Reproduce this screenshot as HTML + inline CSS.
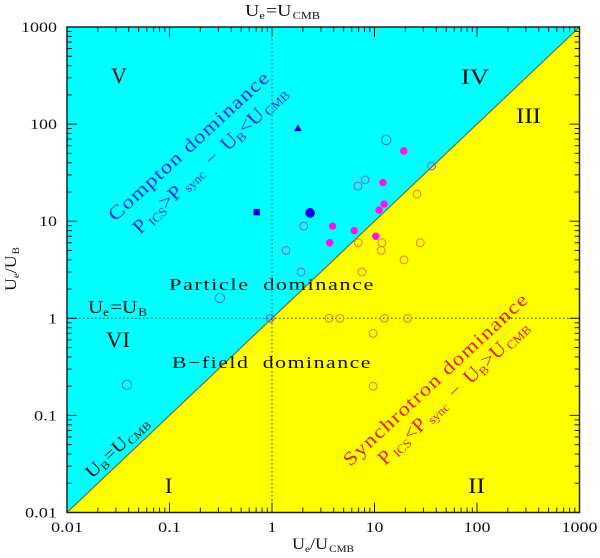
<!DOCTYPE html>
<html lang="en">
<head>
<meta charset="utf-8">
<title>Energy density dominance diagram</title>
<style>
html,body{margin:0;padding:0;background:#fff;width:600px;height:558px;overflow:hidden}
svg{display:block}
text{font-family:"Liberation Serif",serif;fill:#111}
.sub{font-size:62%}
</style>
</head>
<body>
<svg id="chart" xmlns="http://www.w3.org/2000/svg" width="600" height="558" viewBox="0 0 600 558">
<g id="regions"></g>
<g id="guides"></g>
<g id="marks"></g>
<g id="axes"></g>

<text x="111" y="83" font-size="22">V</text>
<text x="461" y="84" font-size="22" textLength="28" lengthAdjust="spacingAndGlyphs">IV</text>
<text x="516" y="123" font-size="22" textLength="25" lengthAdjust="spacingAndGlyphs">III</text>
<text x="106" y="347" font-size="22" textLength="24" lengthAdjust="spacingAndGlyphs">VI</text>
<text x="165" y="493" font-size="22">I</text>
<text x="468" y="493" font-size="22" textLength="17" lengthAdjust="spacingAndGlyphs">II</text>

<text x="169" y="290" font-size="17" letter-spacing="1.2" word-spacing="5" textLength="206" lengthAdjust="spacingAndGlyphs">Particle dominance</text>
<text x="172" y="368" font-size="17" letter-spacing="1.2" word-spacing="5" textLength="200" lengthAdjust="spacingAndGlyphs">B−field dominance</text>

<text x="245" y="16" font-size="17" textLength="75" lengthAdjust="spacingAndGlyphs">U<tspan class="sub" dy="3">e</tspan><tspan dy="-3" dx="1">=U</tspan><tspan class="sub" dy="3" dx="1">CMB</tspan></text>
<text x="88" y="313" font-size="18" textLength="59" lengthAdjust="spacingAndGlyphs">U<tspan class="sub" dy="3">e</tspan><tspan dy="-3" dx="1">=U</tspan><tspan class="sub" dy="3" dx="1">B</tspan></text>
<text transform="translate(92,479) rotate(-43.5)" font-size="18" textLength="80" lengthAdjust="spacingAndGlyphs">U<tspan class="sub" dy="3">B</tspan><tspan dy="-3" dx="1">=U</tspan><tspan class="sub" dy="3" dx="1">CMB</tspan></text>

<text transform="translate(115,222) rotate(-42.5)" font-size="19" letter-spacing="1" textLength="212" lengthAdjust="spacingAndGlyphs" style="fill:#1a30e8">Compton dominance</text>
<text transform="translate(140,235) rotate(-43.5)" font-size="20" textLength="205" lengthAdjust="spacingAndGlyphs" style="fill:#1a30e8">P<tspan class="sub" dy="3" dx="3">ICS</tspan><tspan dy="-3">&gt;P</tspan><tspan class="sub" dy="3" dx="4">sync</tspan><tspan dy="-3" dx="9">−</tspan><tspan dx="9">U</tspan><tspan class="sub" dy="3">B</tspan><tspan dy="-3">&lt;U</tspan><tspan class="sub" dy="3" dx="2">CMB</tspan></text>

<text transform="translate(350,467) rotate(-42.8)" font-size="19" letter-spacing="1" textLength="245" lengthAdjust="spacingAndGlyphs" style="fill:#e8201c">Synchrotron dominance</text>
<text transform="translate(385,466) rotate(-43.5)" font-size="20" textLength="200" lengthAdjust="spacingAndGlyphs" style="fill:#e8201c">P<tspan class="sub" dy="3" dx="3">ICS</tspan><tspan dy="-3">&lt;P</tspan><tspan class="sub" dy="3" dx="4">sync</tspan><tspan dy="-3" dx="9">−</tspan><tspan dx="9">U</tspan><tspan class="sub" dy="3">B</tspan><tspan dy="-3">&gt;U</tspan><tspan class="sub" dy="3" dx="2">CMB</tspan></text>

<text x="292" y="549" font-size="16" textLength="62" lengthAdjust="spacingAndGlyphs">U<tspan class="sub" dy="3">e</tspan><tspan dy="-3">/U</tspan><tspan class="sub" dy="3" dx="1">CMB</tspan></text>
<text transform="translate(16,291) rotate(-90)" font-size="16" textLength="44" lengthAdjust="spacingAndGlyphs">U<tspan class="sub" dy="3">e</tspan><tspan dy="-3">/U</tspan><tspan class="sub" dy="3" dx="1">B</tspan></text>
</svg>
<script>
// Axis tick values and labels
const xTicks = [0.01, 0.1, 1, 10, 100, 1000];
const yTicks = [0.01, 0.1, 1, 10, 100, 1000];
const xTickLabels = ['0.01', '0.1', '1', '10', '100', '1000'];
const yTickLabels = ['0.01', '0.1', '1', '10', '100', '1000'];
const minorMultipliers = [2, 3, 4, 5, 6, 7, 8, 9];

// Guide line positions (data units)
const guideX = [1];
const guideY = [1];

// Open small circles (sources)
const openX = [36, 8.1, 6.9, 26, 2.04, 1.37, 6.95, 11.8, 11.6, 28, 19.4, 7.55, 1.92, 0.96, 3.6, 4.6, 12.5, 21, 9.7, 9.7];
const openY = [37, 26.7, 23, 19, 8.9, 5, 6, 6, 5, 6, 4, 3, 3, 1, 1, 1, 1, 1, 0.7, 0.2];

// Open large circles
const largeX = [13, 0.31, 0.0385];
const largeY = [68.6, 1.62, 0.207];

// Filled magenta circles
const filledX = [19.3, 12.1, 12.4, 11.1, 3.9, 6.35, 10.3, 3.65];
const filledY = [53, 25, 15, 13, 8.9, 8, 7, 6];

// Single blue markers
const blueCircleX = [2.35];
const blueCircleY = [12.2];
const blueSquareX = [0.71];
const blueSquareY = [12.4];
const blueTriangleX = [1.79];
const blueTriangleY = [91];

const NS = 'http://www.w3.org/2000/svg';
const LEFT = 67, RIGHT = 579.5, TOP = 27, BOTTOM = 512.5;
const xMin = xTicks[0], xMax = xTicks[xTicks.length - 1];
const yMin = yTicks[0], yMax = yTicks[yTicks.length - 1];
function sx(v) { return LEFT + (Math.log10(v) - Math.log10(xMin)) / (Math.log10(xMax) - Math.log10(xMin)) * (RIGHT - LEFT); }
function sy(v) { return BOTTOM - (Math.log10(v) - Math.log10(yMin)) / (Math.log10(yMax) - Math.log10(yMin)) * (BOTTOM - TOP); }
function make(tag, parent, props) {
  const el = document.createElementNS(NS, tag);
  for (const k in props) el.setAttribute(k, props[k]);
  parent.appendChild(el);
  return el;
}
function labelWidth(s) {
  let w = 0;
  for (const c of s) w += c === '.' ? 5 : 9;
  return w;
}

const regions = document.getElementById('regions');
const guides = document.getElementById('guides');
const marks = document.getElementById('marks');
const axes = document.getElementById('axes');

// Regions
const cyanRegion = make('polygon', regions, {
  points: [[sx(xMin), sy(yMin)], [sx(xMin), sy(yMax)], [sx(xMax), sy(yMax)]].join(' '),
  fill: '#00ffff'
});


const yellowRegion = make('polygon', regions, {
  points: [[sx(xMin), sy(yMin)], [sx(xMax), sy(yMin)], [sx(xMax), sy(yMax)]].join(' '),
  fill: '#ffff00'
});


const diagonal = make('line', regions, {
  x1: sx(xMin), y1: sy(yMin), x2: sx(xMax), y2: sy(yMax),
  stroke: '#7a6a28', 'stroke-width': 1.2
});



// Guides
guideX.forEach(function (v) {
  const l = make('line', guides, {
    x1: sx(v), y1: TOP, x2: sx(v), y2: BOTTOM,
    stroke: '#1a3a3a', 'stroke-width': 1, 'stroke-dasharray': '1.5 2.5'
  });
  
  
});
guideY.forEach(function (v) {
  const l = make('line', guides, {
    x1: LEFT, y1: sy(v), x2: RIGHT, y2: sy(v),
    stroke: '#1a3a3a', 'stroke-width': 1, 'stroke-dasharray': '1.5 2.5'
  });
  
  
});

// Open small circles
openX.forEach(function (x, i) {
  const y = openY[i];
  const c = make('circle', marks, {
    cx: sx(x), cy: sy(y), r: 3.9, fill: 'none', 'stroke-width': 1.1,
    stroke: y >= x ? '#7a68e8' : '#f08030'
  });
  
  
});
// Open large circles
largeX.forEach(function (x, i) {
  const c = make('circle', marks, {
    cx: sx(x), cy: sy(largeY[i]), r: 4.7, fill: 'none', 'stroke-width': 1.1, stroke: '#2a78e0'
  });
  
  
});
// Filled magenta circles
filledX.forEach(function (x, i) {
  const c = make('circle', marks, {
    cx: sx(x), cy: sy(filledY[i]), r: 3.7, fill: '#ff10ee'
  });
  
  
});
// Blue markers
blueCircleX.forEach(function (x, i) {
  const c = make('circle', marks, {
    cx: sx(x), cy: sy(blueCircleY[i]), r: 4.8, fill: '#0000f0'
  });
  
  
});
blueSquareX.forEach(function (x, i) {
  const c = make('rect', marks, {
    x: sx(x) - 3.2, y: sy(blueSquareY[i]) - 3.2, width: 6.4, height: 6.4, fill: '#0000f0'
  });
  
  
});
blueTriangleX.forEach(function (x, i) {
  const px = sx(x), py = sy(blueTriangleY[i]);
  const c = make('polygon', marks, {
    points: [[px - 3.8, py + 3], [px + 3.8, py + 3], [px, py - 3.8]].join(' '), fill: '#0000f0'
  });
  
  
});

// Ticks
const INK = '#222';
function tickLine(x1, y1, x2, y2, name) {
  const t = make('line', axes, { x1: x1, y1: y1, x2: x2, y2: y2, stroke: INK, 'stroke-width': 1 });
  
  
}
xTicks.forEach(function (v, i) {
  const px = sx(v);
  tickLine(px, BOTTOM, px, BOTTOM - 10, 'x-major-tick');
  tickLine(px, TOP, px, TOP + 10, 'x-major-tick');
  if (i < xTicks.length - 1) {
    minorMultipliers.forEach(function (m) {
      const p = sx(v * m);
      tickLine(p, BOTTOM, p, BOTTOM - 5, 'x-minor-tick');
      tickLine(p, TOP, p, TOP + 5, 'x-minor-tick');
    });
  }
  const s = xTickLabels[i];
  const t = make('text', axes, {
    x: px, y: 532, 'font-size': 15, 'text-anchor': 'middle',
    textLength: labelWidth(s), lengthAdjust: 'spacingAndGlyphs'
  });
  
  
  t.textContent = s;
});
yTicks.forEach(function (v, i) {
  const py = sy(v);
  tickLine(LEFT, py, LEFT + 10, py, 'y-major-tick');
  tickLine(RIGHT, py, RIGHT - 10, py, 'y-major-tick');
  if (i < yTicks.length - 1) {
    minorMultipliers.forEach(function (m) {
      const p = sy(v * m);
      tickLine(LEFT, p, LEFT + 5, p, 'y-minor-tick');
      tickLine(RIGHT, p, RIGHT - 5, p, 'y-minor-tick');
    });
  }
  const s = yTickLabels[i];
  const t = make('text', axes, {
    x: 57, y: py + 5, 'font-size': 15, 'text-anchor': 'end',
    textLength: labelWidth(s), lengthAdjust: 'spacingAndGlyphs'
  });
  
  
  t.textContent = s;
});
const frame = make('rect', axes, {
  x: LEFT, y: TOP, width: RIGHT - LEFT, height: BOTTOM - TOP,
  fill: 'none', stroke: INK, 'stroke-width': 1.5
});


</script>
</body>
</html>
